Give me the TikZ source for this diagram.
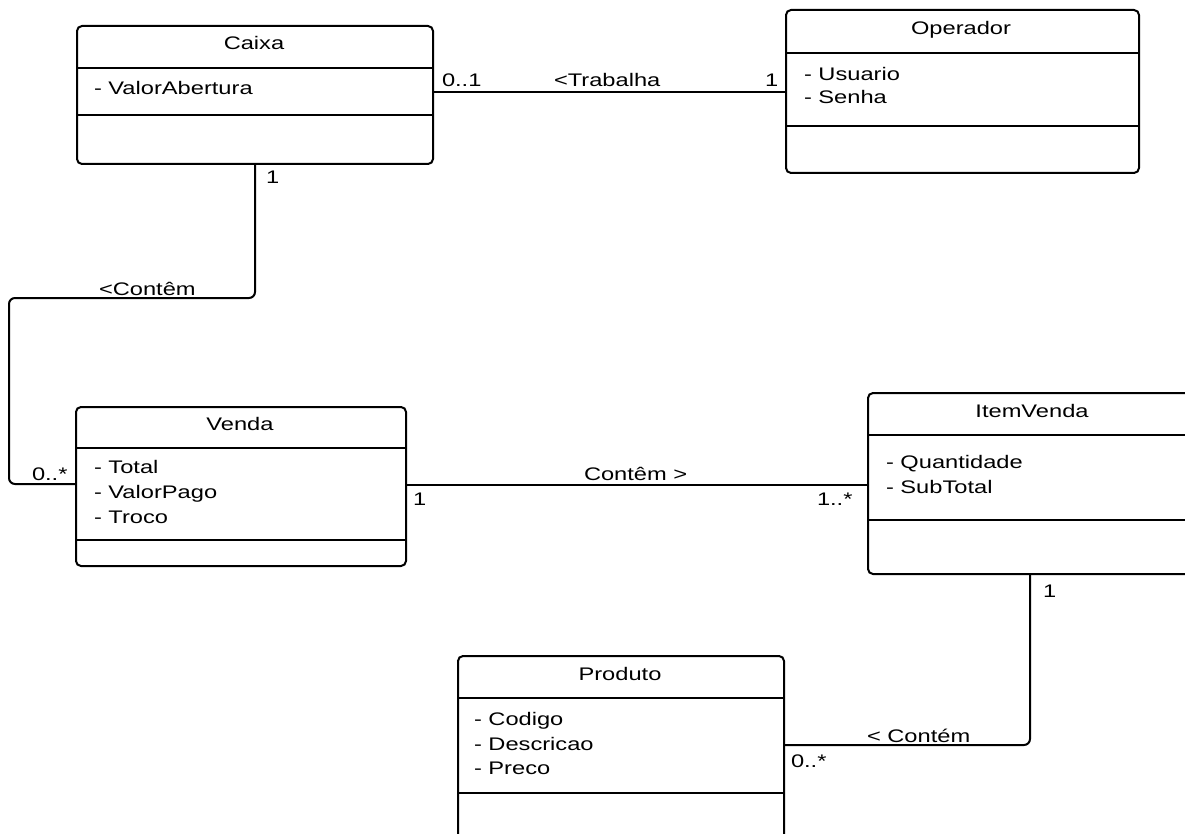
\documentclass[tikz,border=0pt]{standalone}
\usepackage{fontspec}
\setmainfont{Liberation Sans}[FakeStretch=1.3]
\begin{document}
\begin{tikzpicture}[x=1pt,y=-1pt,line width=2pt,
  classbox/.style={draw,rounded corners=5pt,inner sep=0pt,anchor=north west},
  divider/.style={line width=2pt},
  conn/.style={rounded corners=6pt},
  lbl/.style={anchor=base west,inner sep=0pt,font=\fontsize{18.2}{22}\selectfont},
  ctitle/.style={anchor=base,inner sep=0pt,font=\fontsize{18.2}{22}\selectfont}]
\clip (0,0) rectangle (1185,834);
\fill[white] (0,0) rectangle (1185,834);

% class boxes
\node[classbox,minimum width=356pt,minimum height=138pt] (caixa) at (76,25) {};
\node[classbox,minimum width=353pt,minimum height=163pt] (operador) at (785,9) {};
\node[classbox,minimum width=330pt,minimum height=159pt] (venda) at (75,406) {};
\node[classbox,minimum width=330pt,minimum height=181pt] (itemvenda) at (867,392) {};
\node[classbox,minimum width=326pt,minimum height=200pt] (produto) at (457,655) {};

% compartment dividers
\draw[divider] (caixa.west |- 0,68) -- (caixa.east |- 0,68);
\draw[divider] (caixa.west |- 0,115) -- (caixa.east |- 0,115);
\draw[divider] (operador.west |- 0,53) -- (operador.east |- 0,53);
\draw[divider] (operador.west |- 0,126) -- (operador.east |- 0,126);
\draw[divider] (venda.west |- 0,448) -- (venda.east |- 0,448);
\draw[divider] (venda.west |- 0,540) -- (venda.east |- 0,540);
\draw[divider] (itemvenda.west |- 0,435) -- (itemvenda.east |- 0,435);
\draw[divider] (itemvenda.west |- 0,520) -- (itemvenda.east |- 0,520);
\draw[divider] (produto.west |- 0,698) -- (produto.east |- 0,698);
\draw[divider] (produto.west |- 0,793) -- (produto.east |- 0,793);

% class names
\node[ctitle] (tcaixa) at (254,50) {Caixa};
\node[ctitle] (toperador) at (961,35) {Operador};
\node[ctitle] (tvenda) at (240,430) {Venda};
\node[ctitle] (titemvenda) at (1032,417) {ItemVenda};
\node[ctitle] (tproduto) at (620,680) {Produto};

% attributes
\node[lbl] (a1) at (93,95) {- ValorAbertura};
\node[lbl] (a2) at (803,81) {- Usuario};
\node[lbl] (a3) at (803,104) {- Senha};
\node[lbl] (a4) at (93,473) {- Total};
\node[lbl] (a5) at (93,498) {- ValorPago};
\node[lbl] (a6) at (93,523) {- Troco};
\node[lbl] (a7) at (885,468) {- Quantidade};
\node[lbl] (a8) at (885,493) {- SubTotal};
\node[lbl] (a9) at (473,725) {- Codigo};
\node[lbl] (a10) at (473,750) {- Descricao};
\node[lbl] (a11) at (473,774) {- Preco};

% associations
\draw (caixa.east |- 0,92) -- (operador.west |- 0,92);
\draw[conn] (caixa.south) -- (caixa.south |- 0,298) -- (9,298) -- (9,484) -- (venda.west |- 0,484);
\draw (venda.east |- 0,485) -- (itemvenda.west |- 0,485);
\draw[conn] (itemvenda.south -| 1030,0) -- (1030,745) -- (produto.east |- 0,745);

% association names and multiplicities
\node[lbl] (m1) at (441,87) {0..1};
\node[lbl] (n1) at (553,87) {<Trabalha};
\node[lbl] (m2) at (764,87) {1};
\node[lbl] (m3) at (265,184) {1};
\node[lbl] (n2) at (98,295) {<Contêm};
\node[lbl] (m4) at (31,480) {0..*};
\node[lbl] (n3) at (583,480) {Contêm >};
\node[lbl] (m5) at (412,505) {1};
\node[lbl] (m6) at (816,505) {1..*};
\node[lbl] (m7) at (1042,597) {1};
\node[lbl] (n4) at (866,742) {< Contém};
\node[lbl] (m8) at (790,767) {0..*};
\end{tikzpicture}
\end{document}
